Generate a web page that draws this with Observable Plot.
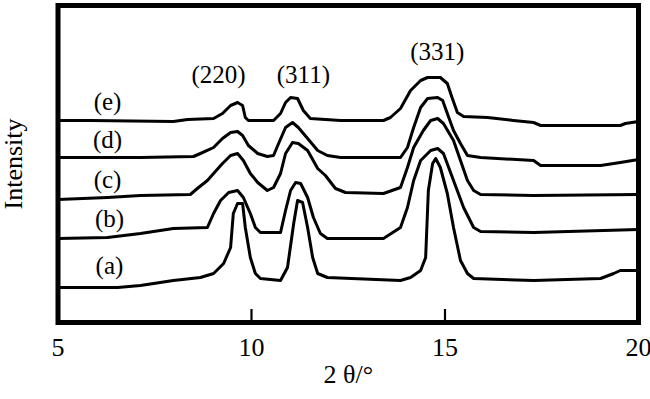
<!DOCTYPE html>
<html><head><meta charset="utf-8">
<script src="https://cdn.jsdelivr.net/npm/d3@7"></script>
<script src="https://cdn.jsdelivr.net/npm/@observablehq/plot@0.6"></script>
<style>html,body{margin:0;padding:0;background:#fff;}</style>
</head><body><div id="chart"></div>
<script>
// 2θ (degrees), intensity (arbitrary units, stacked)
const curveA = [[5.0,35],[6.54,35],[7.13,37],[7.98,42],[8.68,45],[9.02,49],[9.28,59],[9.46,75],[9.53,109],[9.64,119],[9.77,119],[9.84,95],[9.97,65],[10.10,49],[10.23,44],[10.75,42],[10.93,55],[11.09,99],[11.19,122],[11.32,120],[11.45,95],[11.58,65],[11.71,49],[11.96,45],[13.85,42],[14.11,45],[14.37,52],[14.50,65],[14.57,132],[14.68,159],[14.76,164],[14.88,155],[15.06,129],[15.22,95],[15.40,62],[15.58,49],[15.74,44],[17.29,42],[19.02,44],[19.36,49],[19.53,52],[20.0,52]];
const curveB = [[5.0,84],[6.28,85],[7.13,89],[7.98,94],[8.86,95],[9.02,109],[9.20,122],[9.41,130],[9.64,132],[9.79,125],[9.97,109],[10.10,95],[10.23,90],[10.75,90],[10.88,112],[11.01,132],[11.14,140],[11.27,139],[11.45,125],[11.60,105],[11.78,89],[11.96,84],[13.41,84],[13.85,95],[14.03,115],[14.19,142],[14.37,162],[14.63,172],[14.81,174],[14.96,169],[15.22,142],[15.48,115],[15.74,95],[15.92,91],[17.29,90],[20.0,93]];
const curveC = [[5.0,123],[6.28,125],[7.13,127],[8.42,128],[8.60,134],[8.86,142],[9.02,149],[9.25,159],[9.46,167],[9.64,169],[9.79,162],[9.97,149],[10.16,140],[10.41,132],[10.57,135],[10.75,149],[10.88,169],[11.06,180],[11.21,179],[11.45,172],[11.71,154],[11.91,147],[12.17,134],[12.43,130],[13.41,129],[13.85,135],[14.03,155],[14.19,175],[14.44,192],[14.63,202],[14.81,204],[14.96,199],[15.22,182],[15.40,162],[15.58,142],[15.74,132],[15.92,128],[17.29,127],[20.0,128]];
const curveD = [[5.0,165],[5.84,165],[7.13,165],[8.50,166],[8.68,169],[9.02,175],[9.25,184],[9.46,190],[9.64,191],[9.77,187],[9.92,177],[10.16,169],[10.41,166],[10.57,167],[10.70,179],[10.88,195],[11.06,200],[11.21,195],[11.45,184],[11.71,172],[11.96,167],[12.30,165],[13.85,165],[14.03,175],[14.19,195],[14.37,215],[14.55,224],[14.81,225],[14.94,222],[15.06,209],[15.22,192],[15.40,179],[15.58,167],[15.92,165],[17.29,162],[17.47,157],[19.02,157],[19.53,160],[20.0,163]];
const curveE = [[5.0,202],[5.84,202],[7.98,201],[8.35,203],[9.02,204],[9.25,209],[9.46,217],[9.64,220],[9.77,217],[9.84,205],[9.92,202],[10.57,202],[10.75,209],[10.88,220],[11.01,225],[11.19,224],[11.34,212],[11.52,204],[12.30,202],[13.41,202],[13.59,205],[13.85,214],[14.11,232],[14.37,242],[14.55,245],[14.70,245],[14.88,245],[15.06,239],[15.19,224],[15.32,210],[15.48,206],[16.10,205],[16.77,202],[17.29,200],[17.47,197],[19.53,197],[19.66,199],[20.0,201]];

const curveNames = ["(a)","(b)","(c)","(d)","(e)"];
const curveLabelX = [6.33,6.33,6.28,6.28,6.28];
const curveLabelY = [57,104,143,183,221];
const peakNames = ["(220)","(311)","(331)"];
const peakLabelX = [9.15,11.34,14.80];
const peakLabelY = [248,248,271];
const xTicks = [5,10,15,20];
const innerTicks = [10,15];
const innerTickLength = 13;
const xTitle = "2 θ/°";
const yTitle = "Intensity";

const curves = [curveA, curveB, curveC, curveD, curveE];
const rows = curves.flatMap((c, i) => c.map(([x, y]) => ({series: curveNames[i], x, y})));
const curveLabels = curveNames.map((t, i) => ({t, x: curveLabelX[i], y: curveLabelY[i]}));
const peakLabels = peakNames.map((t, i) => ({t, x: peakLabelX[i], y: peakLabelY[i]}));

const chart = Plot.plot({
  width: 650, height: 399,
  marginLeft: 57.5, marginRight: 12, marginTop: 5, marginBottom: 77,
  style: {fontFamily: "'Liberation Serif', 'Times New Roman', serif", background: "#fff", color: "#000"},
  x: {domain: [5, 20]},
  y: {domain: [0, 317], axis: null},
  marks: [
    Plot.line(rows, {x: "x", y: "y", z: "series", stroke: "#000", strokeWidth: 3, strokeLinejoin: "round"}),
    Plot.ruleX(innerTicks, {y1: 0, y2: innerTickLength, stroke: "#000", strokeWidth: 2.2}),
    Plot.axisX({ticks: xTicks, tickSize: 0, tickPadding: 15, fontSize: 26, label: null}),
    Plot.text([xTitle], {frameAnchor: "bottom", dy: 60, fontSize: 26}),
    Plot.text([yTitle], {frameAnchor: "left", textAnchor: "middle", rotate: -90, dx: -44, fontSize: 26}),
    Plot.text(curveLabels, {x: "x", y: "y", text: "t", fontSize: 25}),
    Plot.text(peakLabels, {x: "x", y: "y", text: "t", fontSize: 25}),
    Plot.frame({stroke: "#000", strokeWidth: 5})
  ]
});
document.getElementById("chart").append(chart);
</script>
</body></html>
